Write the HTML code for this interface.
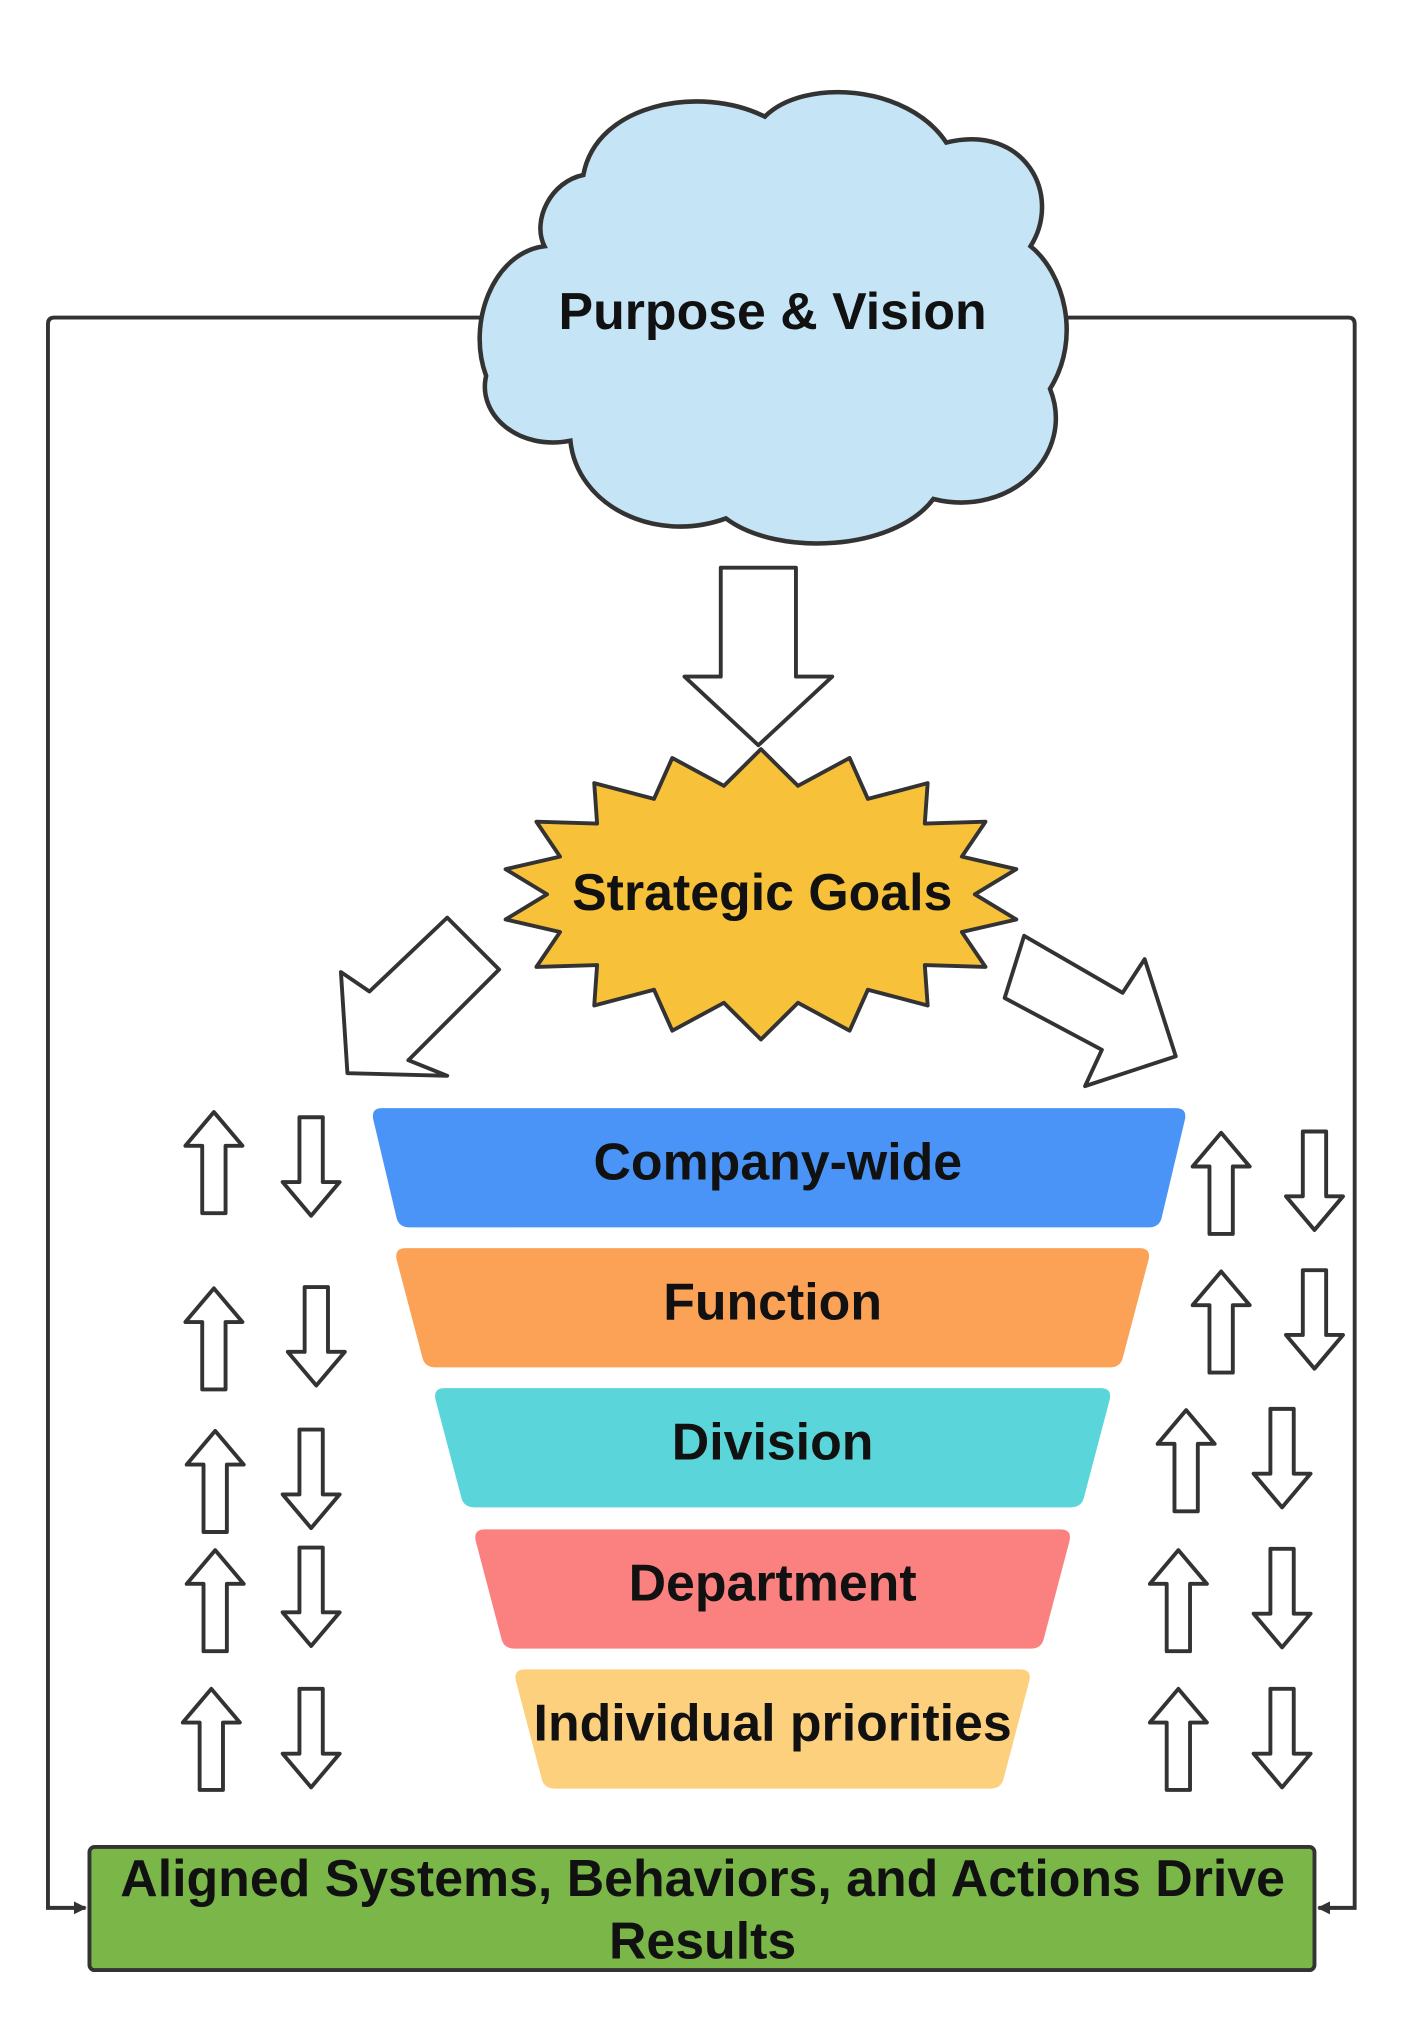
<!DOCTYPE html>
<html><head><meta charset="utf-8"><style>
html,body{margin:0;padding:0;background:#fff;}
svg{display:block;}
text{font-family:"Liberation Sans",Arial,sans-serif;font-weight:bold;fill:#111;text-anchor:middle;}
</style></head><body>
<svg width="1413" height="2031" viewBox="0 0 1090 1567" preserveAspectRatio="none" xmlns="http://www.w3.org/2000/svg">
<defs>
<marker id="ah" markerWidth="10" markerHeight="10" refX="9" refY="5" orient="auto" markerUnits="userSpaceOnUse">
<path d="M0,0 L10,5 L0,10 z" fill="#333"/></marker>
<g id="up"><path d="M-9,40 L-9,-12 L-22,-12 L0,-38 L22,-12 L9,-12 L9,40 Z" fill="#fff" stroke="#333" stroke-width="3" stroke-linejoin="round"/></g>
<g id="dn"><path d="M-9,-38 L-9,12 L-22,12 L0,38 L22,12 L9,12 L9,-38 Z" fill="#fff" stroke="#333" stroke-width="3" stroke-linejoin="round"/></g>
</defs>
<path d="M370,245 L42,245 Q37,245 37,250 L37,1472 L66,1472" fill="none" stroke="#333" stroke-width="3" marker-end="url(#ah)"/>
<path d="M808,245 L1040,245 Q1045,245 1045,250 L1045,1472 L1017,1472" fill="none" stroke="#333" stroke-width="3" marker-end="url(#ah)"/>
<path d="M420,190 C380,195 360,250 375,290 C368,320 400,348 440,340 C445,390 505,420 560,400 C600,430 690,425 720,385 C780,400 830,350 810,300 C835,260 820,210 795,190 C820,150 790,95 730,110 C700,65 620,60 590,90 C540,65 460,80 450,135 C425,140 410,170 420,190 Z" fill="#c5e4f5" stroke="#333" stroke-width="3.5"/>
<text x="596" y="254" font-size="40">Purpose &amp; Vision</text>
<path d="M556,438 L614,438 L614,522 L642,522 L585,575 L528,522 L556,522 Z" fill="#fff" stroke="#333" stroke-width="3" stroke-linejoin="round"/>
<polygon fill="#f7c13a" stroke="#333" stroke-width="3" stroke-linejoin="round" points="587,578 615.6,606.3 655.4,584.8 669.5,616.4 715.6,604.2 713.4,635.4 760.2,634 742,660.9 784,670.6 752,690 784,709.4 742,719.1 760.2,746 713.4,744.6 715.6,775.8 669.5,763.6 655.4,795.2 615.6,773.7 587,802 558.4,773.7 518.6,795.2 504.5,763.6 458.4,775.8 460.6,744.6 413.8,746 432,719.1 390,709.4 422,690 390,670.6 432,660.9 413.8,634 460.6,635.4 458.4,604.2 504.5,616.4 518.6,584.8 558.4,606.3"/>
<text x="588" y="702" font-size="40">Strategic Goals</text>
<polygon points="345,708 385,748 315,818 345,830 268,828 263,750 285,765" fill="#fff" stroke="#333" stroke-width="3" stroke-linejoin="round"/>
<polygon points="790,722 866,766 883,740 907,815 837,838 850,810 775,770" fill="#fff" stroke="#333" stroke-width="3" stroke-linejoin="round"/>
<path d="M295,855 L907,855 Q916,855 914,864 L896,940 Q894,947 886,947 L316,947 Q308,947 306,940 L288,864 Q286,855 295,855 Z" fill="#4a94f7"/>
<text x="600" y="910" font-size="40">Company-wide</text>
<path d="M313,963 L879,963 Q888,963 886,972 L866,1048 Q864,1055 856,1055 L336,1055 Q328,1055 326,1048 L306,972 Q304,963 313,963 Z" fill="#fba257"/>
<text x="596" y="1018" font-size="40">Function</text>
<path d="M343,1071 L849,1071 Q858,1071 856,1080 L836,1156 Q834,1163 826,1163 L366,1163 Q358,1163 356,1156 L336,1080 Q334,1071 343,1071 Z" fill="#5ad5d9"/>
<text x="596" y="1126" font-size="40">Division</text>
<path d="M374,1180 L818,1180 Q827,1180 825,1189 L805,1265 Q803,1272 795,1272 L397,1272 Q389,1272 387,1265 L367,1189 Q365,1180 374,1180 Z" fill="#fb8080"/>
<text x="596" y="1235" font-size="40">Department</text>
<path d="M405,1288 L787,1288 Q796,1288 794,1297 L774,1373 Q772,1380 764,1380 L428,1380 Q420,1380 418,1373 L398,1297 Q396,1288 405,1288 Z" fill="#fdd07e"/>
<text x="596" y="1343" font-size="40">Individual priorities</text>
<use href="#up" x="165" y="896"/><use href="#dn" x="240" y="900"/>
<use href="#up" x="165" y="1032"/><use href="#dn" x="244" y="1031"/>
<use href="#up" x="166" y="1142"/><use href="#dn" x="240" y="1141"/>
<use href="#up" x="166" y="1234"/><use href="#dn" x="240" y="1232"/>
<use href="#up" x="163" y="1341"/><use href="#dn" x="240" y="1341"/>
<use href="#up" x="942" y="912"/><use href="#dn" x="1014" y="911"/>
<use href="#up" x="942" y="1019"/><use href="#dn" x="1014" y="1018"/>
<use href="#up" x="915" y="1126"/><use href="#dn" x="989" y="1125"/>
<use href="#up" x="909" y="1234"/><use href="#dn" x="989" y="1233"/>
<use href="#up" x="909" y="1341"/><use href="#dn" x="989" y="1341"/>
<rect x="69" y="1425" width="945" height="95" rx="4" fill="#7ab648" stroke="#333" stroke-width="3"/>
<text x="542" y="1463" font-size="40">Aligned Systems, Behaviors, and Actions Drive</text>
<text x="542" y="1511" font-size="40">Results</text>
</svg>
</body></html>
